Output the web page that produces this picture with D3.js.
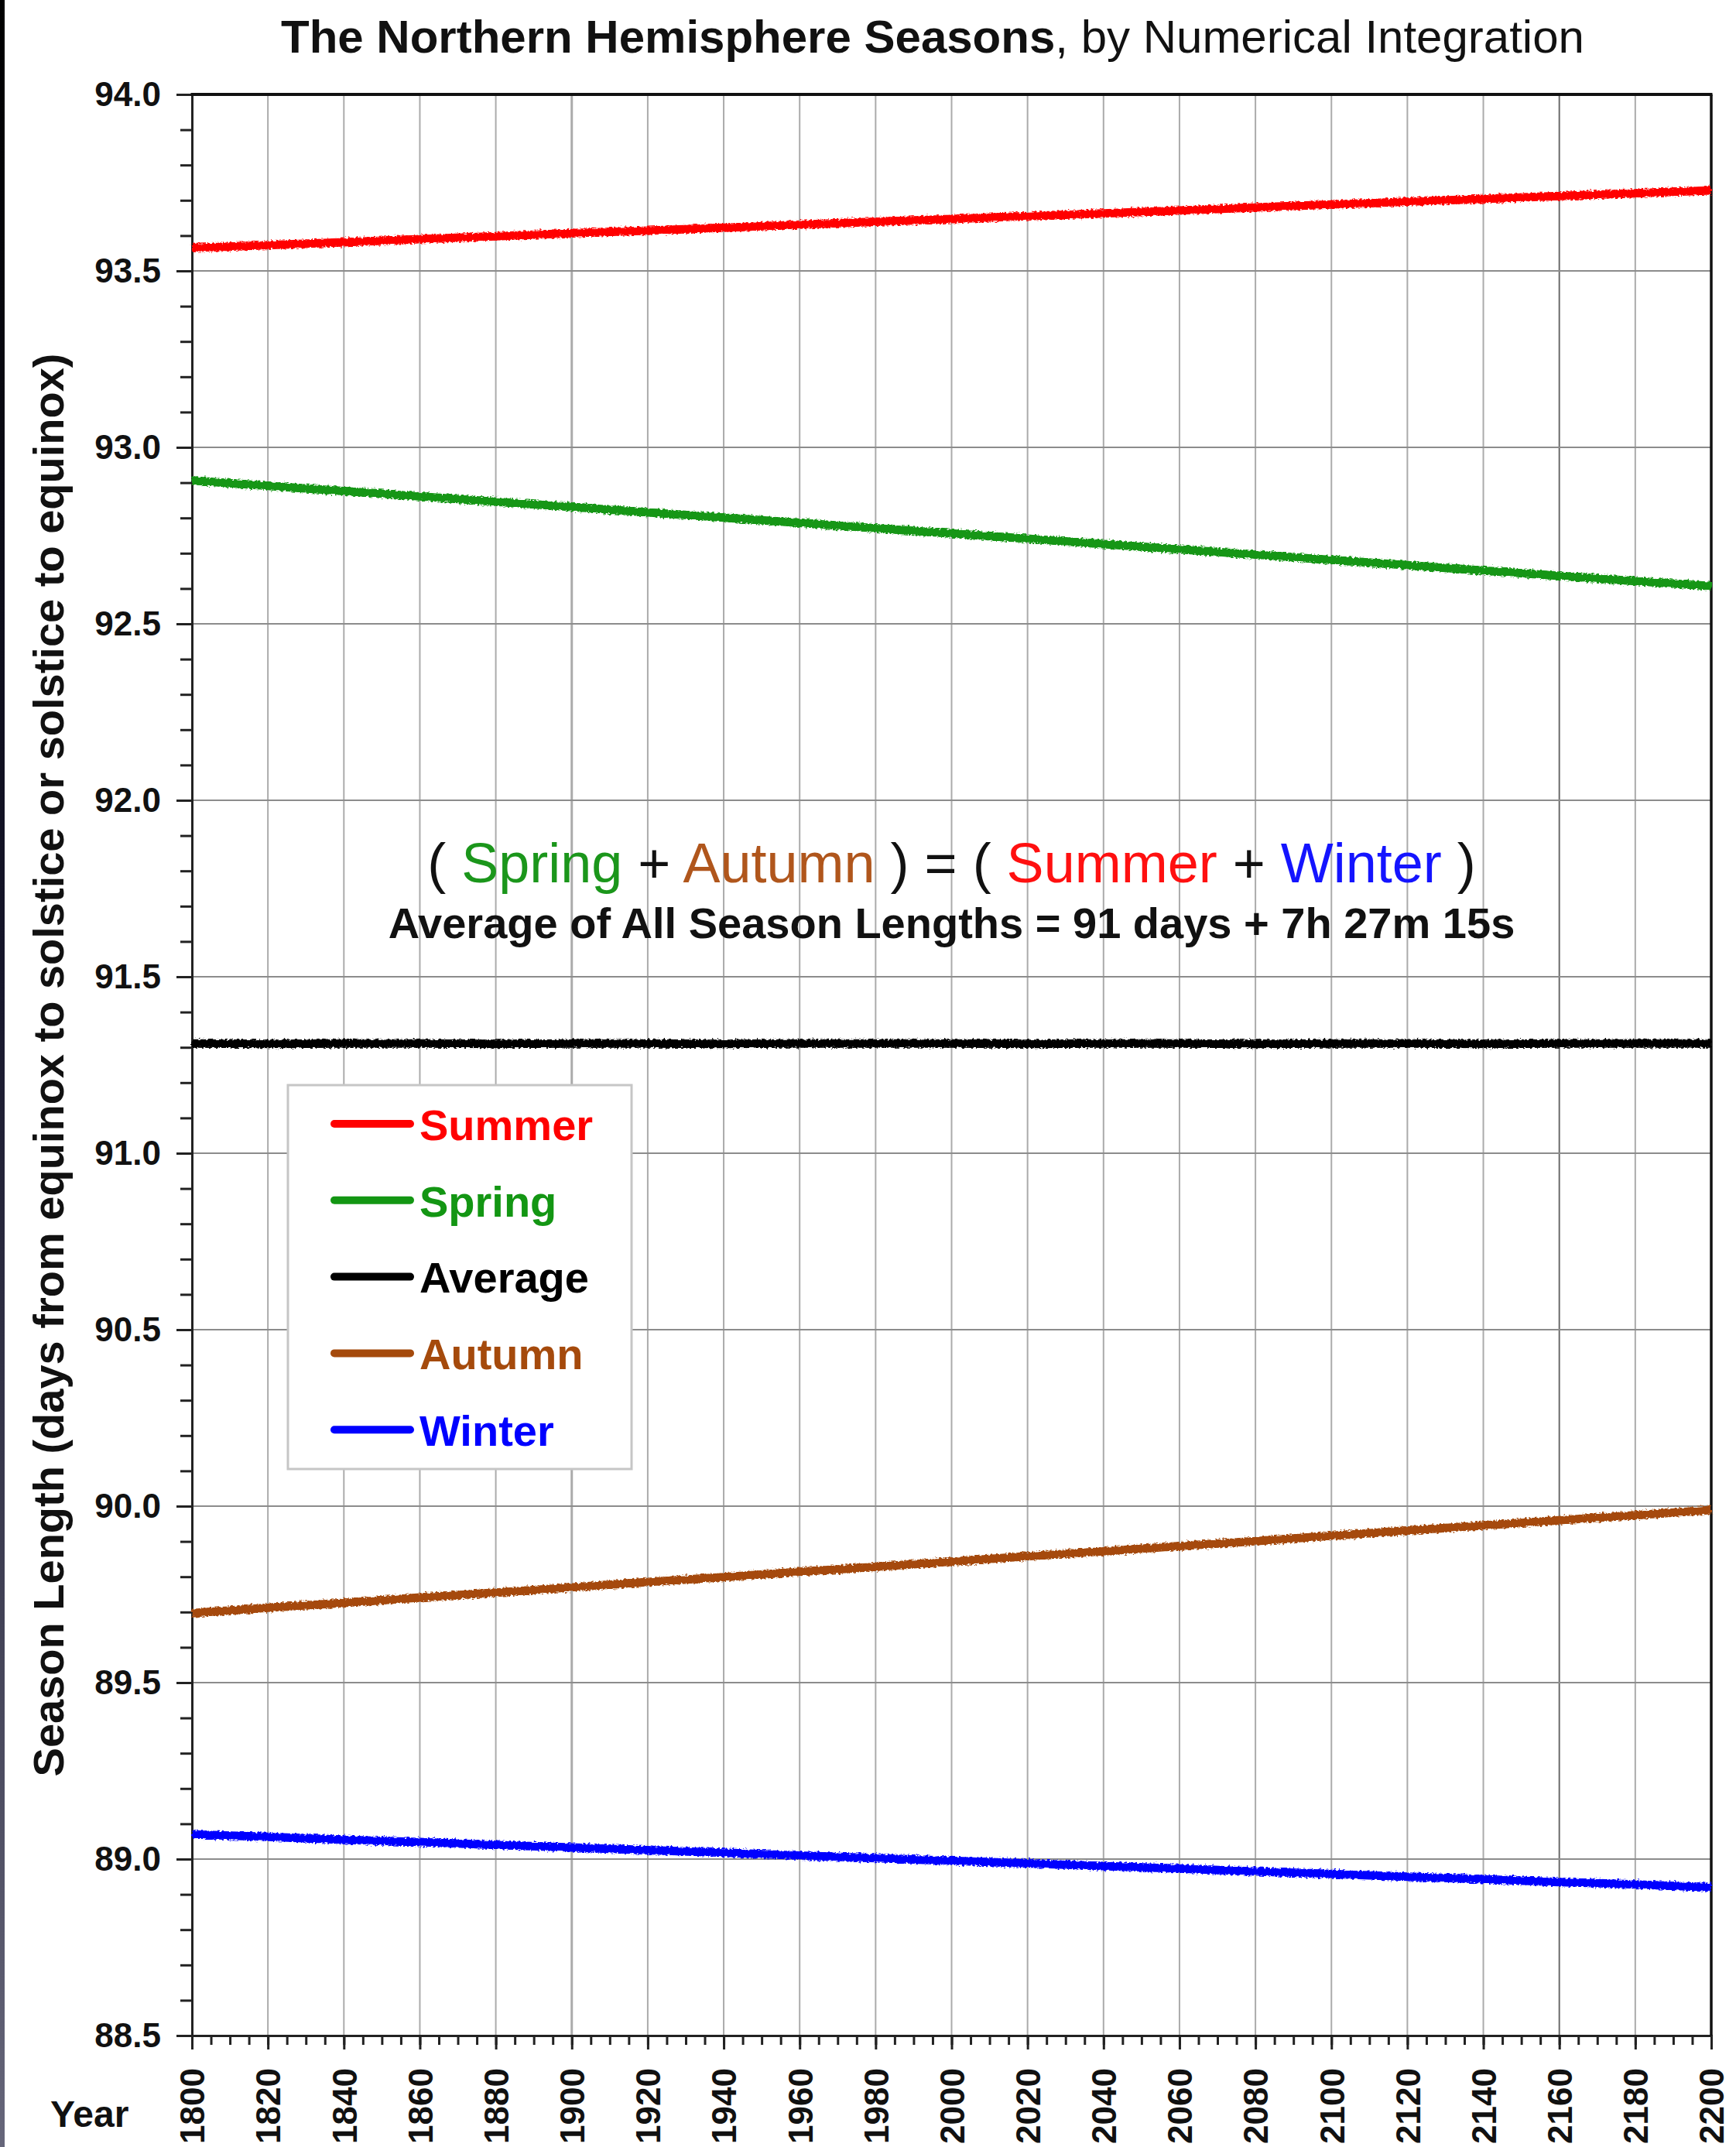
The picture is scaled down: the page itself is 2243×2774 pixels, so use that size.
<!DOCTYPE html>
<html>
<head>
<meta charset="utf-8">
<script src="https://cdn.jsdelivr.net/npm/d3@7"></script>
<style>
  html, body { margin: 0; padding: 0; background: #fff; }
  svg { display: block; }
  text { font-family: "Liberation Sans", Arial, Helvetica, sans-serif; }
</style>
</head>
<body>
<svg id="chart" width="2243" height="2774"></svg>
<script>
// Season lengths in days, sampled every 20 years from 1800 to 2200
const years = [1800, 1820, 1840, 1860, 1880, 1900, 1920, 1940, 1960, 1980, 2000,
               2020, 2040, 2060, 2080, 2100, 2120, 2140, 2160, 2180, 2200];

const summer = [93.565, 93.573, 93.581, 93.590, 93.598, 93.607, 93.614, 93.622, 93.631, 93.639, 93.647,
                93.655, 93.663, 93.671, 93.680, 93.688, 93.696, 93.704, 93.712, 93.720, 93.728];
const spring = [92.906, 92.891, 92.876, 92.861, 92.846, 92.831, 92.816, 92.801, 92.786, 92.771, 92.756,
                92.741, 92.726, 92.711, 92.696, 92.681, 92.666, 92.651, 92.636, 92.621, 92.607];
const average = [91.311, 91.310, 91.311, 91.311, 91.310, 91.311, 91.311, 91.310, 91.311, 91.311, 91.311,
                 91.310, 91.311, 91.311, 91.310, 91.311, 91.311, 91.310, 91.311, 91.311, 91.311];
const autumn = [89.697, 89.712, 89.726, 89.741, 89.755, 89.770, 89.785, 89.799, 89.814, 89.828, 89.843,
                89.858, 89.872, 89.887, 89.901, 89.916, 89.931, 89.945, 89.960, 89.974, 89.989];
const winter = [89.070, 89.063, 89.055, 89.048, 89.040, 89.033, 89.025, 89.018, 89.010, 89.003, 88.995,
                88.988, 88.980, 88.973, 88.965, 88.958, 88.950, 88.943, 88.935, 88.928, 88.920];

const seriesNames = ["Summer", "Spring", "Average", "Autumn", "Winter"];
const seriesColors = ["#ff0000", "#139613", "#000000", "#a54a0c", "#0000ff"];
const seriesValues = [summer, spring, average, autumn, winter];

const yMajorTicks = [88.5, 89.0, 89.5, 90.0, 90.5, 91.0, 91.5, 92.0, 92.5, 93.0, 93.5, 94.0];
const xMajorTicks = [1800, 1820, 1840, 1860, 1880, 1900, 1920, 1940, 1960, 1980, 2000,
                     2020, 2040, 2060, 2080, 2100, 2120, 2140, 2160, 2180, 2200];

const W = 2243, H = 2774;
const plot = { left: 248, right: 2211, top: 122, bottom: 2630 };

const svg = d3.select("#chart");

// Dark window edge along the left side
const defs = svg.append("defs");
const edgeGrad = defs.append("linearGradient").attr("id", "edgeGrad")
  .attr("x1", 0).attr("y1", 0).attr("x2", 0).attr("y2", 1);
edgeGrad.append("stop").attr("offset", "0%").attr("stop-color", "#000000");
edgeGrad.append("stop").attr("offset", "45%").attr("stop-color", "#15152a");
edgeGrad.append("stop").attr("offset", "100%").attr("stop-color", "#66667a");

// Slight roughness on the traces
const rough = defs.append("filter").attr("id", "rough")
  .attr("filterUnits", "userSpaceOnUse")
  .attr("x", 0).attr("y", 0).attr("width", W).attr("height", H);
rough.append("feTurbulence").attr("type", "fractalNoise")
  .attr("baseFrequency", "0.3 0.45").attr("numOctaves", 2).attr("seed", 7).attr("result", "noise");
rough.append("feDisplacementMap").attr("in", "SourceGraphic").attr("in2", "noise")
  .attr("scale", 6).attr("xChannelSelector", "R").attr("yChannelSelector", "G");

svg.append("rect").attr("x", 0).attr("y", 0).attr("width", W).attr("height", H).attr("fill", "#fff");
svg.append("rect").attr("x", 0).attr("y", 0).attr("width", 6).attr("height", H).attr("fill", "url(#edgeGrad)");

const x = d3.scaleLinear().domain([1800, 2200]).range([plot.left, plot.right]);
const y = d3.scaleLinear().domain([88.5, 94.0]).range([plot.bottom, plot.top]);

// Grid
const grid = svg.append("g");
grid.selectAll("line.v").data(xMajorTicks.filter(d => d > 1800 && d < 2200)).enter()
  .append("line")
  .attr("x1", d => x(d)).attr("x2", d => x(d))
  .attr("y1", plot.top).attr("y2", plot.bottom)
  .attr("stroke", d => d === 2160 ? "#6a6a6a" : "#ababab")
  .attr("stroke-width", d => d === 1900 ? 3 : 2);
grid.selectAll("line.h").data(yMajorTicks.filter(d => d > 88.5 && d < 94)).enter()
  .append("line")
  .attr("x1", plot.left).attr("x2", plot.right)
  .attr("y1", d => y(d)).attr("y2", d => y(d))
  .attr("stroke", "#8c8c8c")
  .attr("stroke-width", 2);

// Axes
const tickFont = "bold 44px 'Liberation Sans', Arial, sans-serif";

const yMinor = svg.append("g").attr("transform", `translate(${plot.left},0)`)
  .call(d3.axisLeft(y).ticks(55).tickSize(15).tickFormat(""));
const yAxis = svg.append("g").attr("transform", `translate(${plot.left},0)`)
  .call(d3.axisLeft(y).tickValues(yMajorTicks).tickSize(20).tickPadding(20).tickFormat(d3.format(".1f")));

const xMinor = svg.append("g").attr("transform", `translate(0,${plot.bottom})`)
  .call(d3.axisBottom(x).tickValues(d3.range(1800, 2201, 5)).tickSize(12).tickFormat(""));
const xAxis = svg.append("g").attr("transform", `translate(0,${plot.bottom})`)
  .call(d3.axisBottom(x).tickValues(xMajorTicks).tickSize(18).tickFormat(d3.format("d")));

[yMinor, yAxis, xMinor, xAxis].forEach(g => {
  g.select(".domain").attr("stroke", "#222").attr("stroke-width", 3);
  g.selectAll(".tick line").attr("stroke", "#222").attr("stroke-width", 3);
});
yAxis.selectAll(".tick text").style("font", tickFont).attr("fill", "#111");
xAxis.selectAll(".tick text")
  .style("font", tickFont).attr("fill", "#111")
  .attr("transform", "rotate(-90)")
  .attr("y", 0).attr("x", -42).attr("dy", "0.36em")
  .style("text-anchor", "end");

// Frame: top and right borders
svg.append("line").attr("x1", plot.left - 1.5).attr("x2", plot.right + 1.5)
  .attr("y1", plot.top).attr("y2", plot.top).attr("stroke", "#111").attr("stroke-width", 4);
svg.append("line").attr("x1", plot.right).attr("x2", plot.right)
  .attr("y1", plot.top).attr("y2", plot.bottom).attr("stroke", "#111").attr("stroke-width", 3.5);

// Data traces
const line = d3.line().x((d, i) => x(years[i])).y(d => y(d));
const traces = svg.append("g").attr("filter", "url(#rough)");
seriesValues.forEach((vals, k) => {
  traces.append("path")
    .attr("d", line(vals))
    .attr("fill", "none")
    .attr("stroke", seriesColors[k])
    .attr("stroke-width", 11)
    .attr("stroke-linejoin", "round");
});

// Equation annotation
const cx = (plot.left + plot.right) / 2;
const eq = svg.append("text").attr("x", cx).attr("y", 1140)
  .attr("text-anchor", "middle").style("font-size", "72px").attr("fill", "#111");
[["( ", "#111"], ["Spring", "#1b961b"], [" + ", "#111"], ["Autumn", "#b0561c"],
 [" ) = ( ", "#111"], ["Summer", "#ff1010"], [" + ", "#111"], ["Winter", "#1414ff"], [" )", "#111"]]
  .forEach(([t, c]) => eq.append("tspan").attr("fill", c).text(t));

svg.append("text").attr("x", cx).attr("y", 1212)
  .attr("text-anchor", "middle")
  .style("font-size", "56px").style("font-weight", "bold").attr("fill", "#111")
  .text("Average of All Season Lengths = 91 days + 7h 27m 15s");

// Legend
const legend = svg.append("g");
legend.append("rect").attr("x", 372).attr("y", 1402).attr("width", 444).attr("height", 496)
  .attr("fill", "#fff").attr("stroke", "#c6c6c6").attr("stroke-width", 3);
const legendRows = legend.selectAll("g.row").data(seriesNames).enter().append("g")
  .attr("transform", (d, i) => `translate(0,${1452 + i * 98.8})`);
legendRows.append("line").attr("x1", 432).attr("x2", 530).attr("y1", 0).attr("y2", 0)
  .attr("stroke", (d, i) => seriesColors[i]).attr("stroke-width", 10).attr("stroke-linecap", "round");
legendRows.append("text").attr("x", 542).attr("y", 0).attr("dy", "0.37em")
  .style("font-size", "56px").style("font-weight", "bold")
  .attr("fill", (d, i) => seriesColors[i])
  .text(d => d);

// Title
const title = svg.append("text").attr("x", 363).attr("y", 68).style("font-size", "60px").attr("fill", "#111");
title.append("tspan").style("font-weight", "bold").text("The Northern Hemisphere Seasons");
title.append("tspan").text(", by Numerical Integration");

// Axis titles
svg.append("text")
  .attr("transform", `translate(82,${(plot.top + plot.bottom) / 2}) rotate(-90)`)
  .attr("text-anchor", "middle")
  .style("font-size", "56px").style("font-weight", "bold").attr("fill", "#111")
  .text("Season Length (days from equinox to solstice or solstice to equinox)");

svg.append("text").attr("x", 65).attr("y", 2748)
  .style("font-size", "48px").style("font-weight", "bold").attr("fill", "#111")
  .text("Year");
</script>
</body>
</html>
